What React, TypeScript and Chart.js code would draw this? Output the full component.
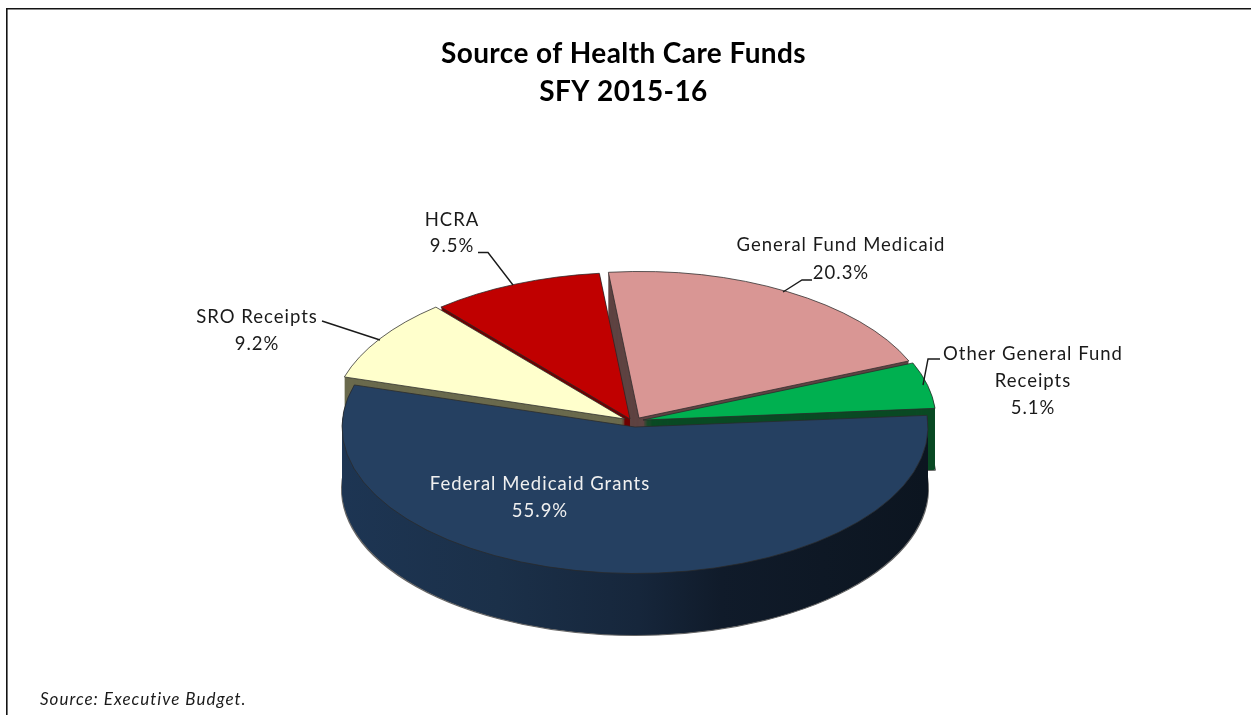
import React, { useEffect, useRef } from "react";
import { Chart, registerables } from "chart.js";

Chart.register(...registerables);

const categories = ["General Fund Medicaid", "Other General Fund Receipts", "Federal Medicaid Grants", "SRO Receipts", "HCRA"];
const shares = [20.3, 5.1, 55.9, 9.2, 9.5];
const topColors = ["#D99694", "#00B050", "#254061", "#FFFFCC", "#C00000"];
const wallColors = ["#5f4443", "#0a4a24", "", "#6a6a4d", "#6e0000"];
const titleLines = ["Source of Health Care Funds", "SFY 2015-16"];
const sourceNote = "Source: Executive Budget.";

const CX = 636, CY = 421, SQUASH = 0.5, DEPTH = 62, RADIUS = 293;
const explode = [[3, -3], [7, -1], [-1, 6], [-11, -2], [-6, -2]];
const paintOrder = [0, 4, 3, 1, 2];

const FONT = "Lato, 'Open Sans', sans-serif";

const labelSpec = [
  { lines: ["General Fund Medicaid", "20.3%"], x: 841, y: [245, 273], color: "#1a1a1a" },
  { lines: ["Other General Fund", "Receipts", "5.1%"], x: 1033, y: [354, 381, 408], color: "#1a1a1a" },
  { lines: ["Federal Medicaid Grants", "55.9%"], x: 540, y: [484, 511], color: "#f0f0f0" },
  { lines: ["SRO Receipts", "9.2%"], x: 257, y: [317, 344], color: "#1a1a1a" },
  { lines: ["HCRA", "9.5%"], x: 452, y: [220, 246], color: "#1a1a1a" },
];
const leaders = [
  [[812, 280], [802, 280], [783, 292]],
  [[940, 359], [928, 359], [923, 385]],
  [],
  [[322, 321], [380, 340]],
  [[478, 252.5], [488, 252.5], [513, 285]],
];

const piePlugin = {
  id: "tiltedPie",
  beforeDraw(chart: any) {
    const { ctx, width, height } = chart;
    ctx.save();
    ctx.fillStyle = "#fff";
    ctx.fillRect(0, 0, width, height);
    ctx.strokeStyle = "#141414";
    ctx.lineWidth = 1.6;
    ctx.beginPath();
    ctx.moveTo(6.8, height);
    ctx.lineTo(6.8, 8.8);
    ctx.lineTo(width, 8.8);
    ctx.stroke();
    ctx.restore();
  },
  beforeDatasetDraw(chart: any) {
    const { ctx } = chart;
    const arcs = chart.getDatasetMeta(0).data;
    for (const i of paintOrder) {
      const arc = arcs[i];
      const saved = arc.options;
      const [dx, dy] = explode[i];
      const place = (yShift: number) => {
        ctx.translate(CX + dx, CY + dy + yShift);
        ctx.scale(1, SQUASH);
        ctx.translate(-arc.x, -arc.y);
      };
      let fill: any = wallColors[i];
      if (!fill) {
        const toLocal = (x: number) => x - (CX + dx) + arc.x;
        const g = ctx.createLinearGradient(toLocal(340), 0, toLocal(926), 0);
        g.addColorStop(0, "#1d3553");
        g.addColorStop(0.27, "#1b3049");
        g.addColorStop(0.51, "#16263b");
        g.addColorStop(0.65, "#101b2a");
        g.addColorStop(1, "#0c1520");
        fill = g;
      }
      for (let d = DEPTH; d >= 1; d--) {
        ctx.save();
        place(d);
        arc.options = {
          ...saved,
          backgroundColor: fill,
          borderColor: d === DEPTH ? "#666" : fill,
          borderWidth: d === DEPTH ? 2 : 0,
        };
        arc.draw(ctx);
        ctx.restore();
      }
      arc.options = saved;
      ctx.save();
      place(0);
      arc.draw(ctx);
      ctx.restore();
    }
    return false;
  },
  afterDraw(chart: any) {
    const { ctx } = chart;
    ctx.save();
    ctx.textBaseline = "middle";
    ctx.textAlign = "center";
    ctx.fillStyle = "#000";
    ctx.font = `bold 28px ${FONT}`;
    ctx.letterSpacing = "0.4px";
    titleLines.forEach((t, i) => ctx.fillText(t, 623.5, 54 + i * 38));

    ctx.strokeStyle = "#1a1a1a";
    ctx.lineWidth = 1.4;
    leaders.forEach((pts) => {
      if (!pts.length) return;
      ctx.beginPath();
      pts.forEach(([x, y], i) => (i ? ctx.lineTo(x, y) : ctx.moveTo(x, y)));
      ctx.stroke();
    });

    ctx.font = `18.5px ${FONT}`;
    ctx.letterSpacing = "1px";
    labelSpec.forEach((s) => {
      ctx.fillStyle = s.color;
      s.lines.forEach((line, i) => ctx.fillText(line, s.x, s.y[i]));
    });

    ctx.textAlign = "left";
    ctx.fillStyle = "#1a1a1a";
    ctx.font = `italic 17px ${FONT}`;
    ctx.fillText(sourceNote, 40, 700);
    ctx.restore();
  },
};

export default function App() {
  const ref = useRef<HTMLCanvasElement>(null);
  useEffect(() => {
    const chart = new Chart(ref.current!, {
      type: "pie",
      data: {
        labels: categories,
        datasets: [
          {
            data: shares,
            backgroundColor: topColors,
            borderColor: "#2a2a2a",
            borderWidth: 1,
            radius: RADIUS,
          } as any,
        ],
      },
      options: {
        animation: false,
        responsive: false,
        rotation: -6,
        plugins: { legend: { display: false }, tooltip: { enabled: false }, title: { display: false } },
      },
      plugins: [piePlugin],
    } as any);
    return () => chart.destroy();
  }, []);
  return (
    <div style={{ position: "fixed", left: 0, top: 0, width: 1251, height: 715 }}>
      <canvas ref={ref} width={1251} height={715} style={{ display: "block" }} />
    </div>
  );
}
